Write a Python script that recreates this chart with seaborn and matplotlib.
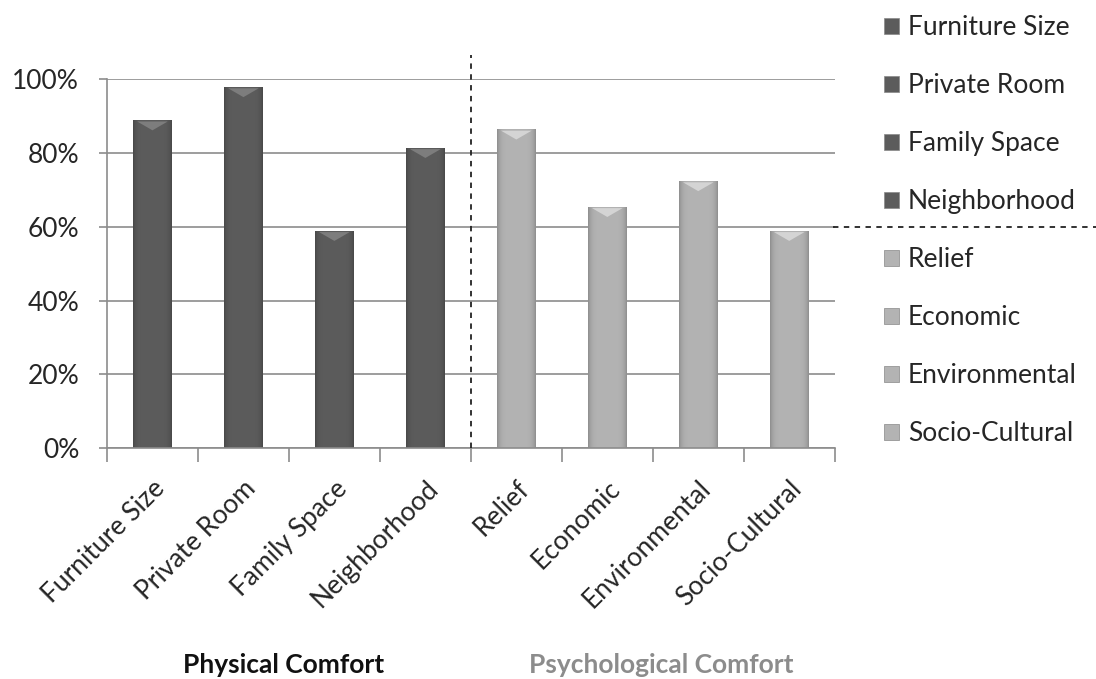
import matplotlib
matplotlib.use("Agg")
import matplotlib.pyplot as plt
import seaborn as sns
import pandas as pd
import numpy as np
from matplotlib.patches import Patch
from matplotlib.lines import Line2D
from matplotlib.ticker import PercentFormatter

# data
categories = ["Furniture Size", "Private Room", "Family Space", "Neighborhood",
              "Relief", "Economic", "Environmental", "Socio-Cultural"]
values = [0.89, 0.98, 0.59, 0.815, 0.865, 0.655, 0.725, 0.59]
groups = ["Physical Comfort"] * 4 + ["Psychological Comfort"] * 4
yticks = [0, 0.2, 0.4, 0.6, 0.8, 1.0]

df = pd.DataFrame({"category": categories, "value": values, "group": groups})

sns.set_style("white")
plt.rcParams["font.family"] = ["Lato", "DejaVu Sans"]

dark, light = "#5c5c5c", "#b3b3b3"
palette = {"Physical Comfort": dark, "Psychological Comfort": light}

fig = plt.figure(figsize=(10.96, 6.79), dpi=100)
ax = fig.add_axes([0.0976, 0.340, 0.664, 0.543])

sns.barplot(data=df, x="category", y="value", hue="group", palette=palette,
            dodge=False, width=0.42, saturation=1, legend=False, ax=ax,
            edgecolor="none")

# shaded look on the bars
for bar in ax.patches:
    x0, y0 = bar.get_x(), bar.get_y()
    w, h = bar.get_width(), bar.get_height()
    base = np.array(matplotlib.colors.to_rgb(bar.get_facecolor()))
    t = np.linspace(-1, 1, 64)
    shade = 1.0 - 0.2 * t ** 6
    img = np.clip(base[None, :] * shade[:, None], 0, 1)[None, :, :]
    im = ax.imshow(img, extent=[x0, x0 + w, y0, y0 + h], aspect="auto",
                   zorder=bar.get_zorder() + 0.1, interpolation="bilinear")
    im.set_clip_path(bar)
    # light chevron at the top
    cap = min(0.028, h)
    top = y0 + h
    ax.fill([x0 + 0.1 * w, x0 + 0.9 * w, x0 + 0.5 * w],
            [top - 0.004, top - 0.004, top - cap],
            color=np.clip(base + 0.13, 0, 1), lw=0,
            zorder=bar.get_zorder() + 0.2)

ax.set_ylim(0, 1)
ax.set_xlim(-0.5, 7.5)
ax.set_yticks(yticks)
ax.yaxis.set_major_formatter(PercentFormatter(1.0, decimals=0))
ax.yaxis.grid(True, color="#8c8c8c", lw=1.2)
ax.set_axisbelow(True)

for side in ["top", "right"]:
    ax.spines[side].set_visible(False)
for side in ["left", "bottom"]:
    ax.spines[side].set_color("#8c8c8c")
    ax.spines[side].set_linewidth(1.2)

ax.tick_params(axis="y", length=6, width=1.2, color="#8c8c8c", labelsize=19,
               pad=14, left=True)
ax.set_xticks(range(len(categories)))
ax.set_xticklabels(categories, rotation=45, ha="right", rotation_mode="anchor",
                   fontsize=19)
ax.tick_params(axis="x", length=0, pad=20)
ax.set_xticks(np.arange(-0.5, 8.0, 1.0), minor=True)
ax.tick_params(axis="x", which="minor", length=10, width=1.2, color="#8c8c8c",
               bottom=True)
ax.set_xlabel("")
ax.set_ylabel("")

# divider between the two groups
ax.plot([3.5, 3.5], [0, 1.067], ls=(0, (3, 3)), color="#222222", lw=1.3,
        clip_on=False, zorder=5)

# legend
handles = [Patch(facecolor=palette[g], edgecolor="#888888", lw=0.5, label=c)
           for c, g in zip(categories, groups)]
fig.legend(handles=handles, loc="upper left", bbox_to_anchor=(0.797, 0.993),
           frameon=False, fontsize=19, handlelength=0.55, handleheight=0.55,
           handletextpad=0.35, labelspacing=1.25, borderaxespad=0)
fig.add_artist(Line2D([0.760, 1.0], [0.666, 0.666], ls=(0, (3, 3)),
                      color="#222222", lw=1.3, transform=fig.transFigure))

fig.text(0.259, 0.021, "Physical Comfort", ha="center", va="center",
         fontsize=19, fontweight="bold", color="#111111")
fig.text(0.603, 0.021, "Psychological Comfort", ha="center", va="center",
         fontsize=19, fontweight="bold", color="#8c8c8c")

plt.savefig("out.png", dpi=100)
